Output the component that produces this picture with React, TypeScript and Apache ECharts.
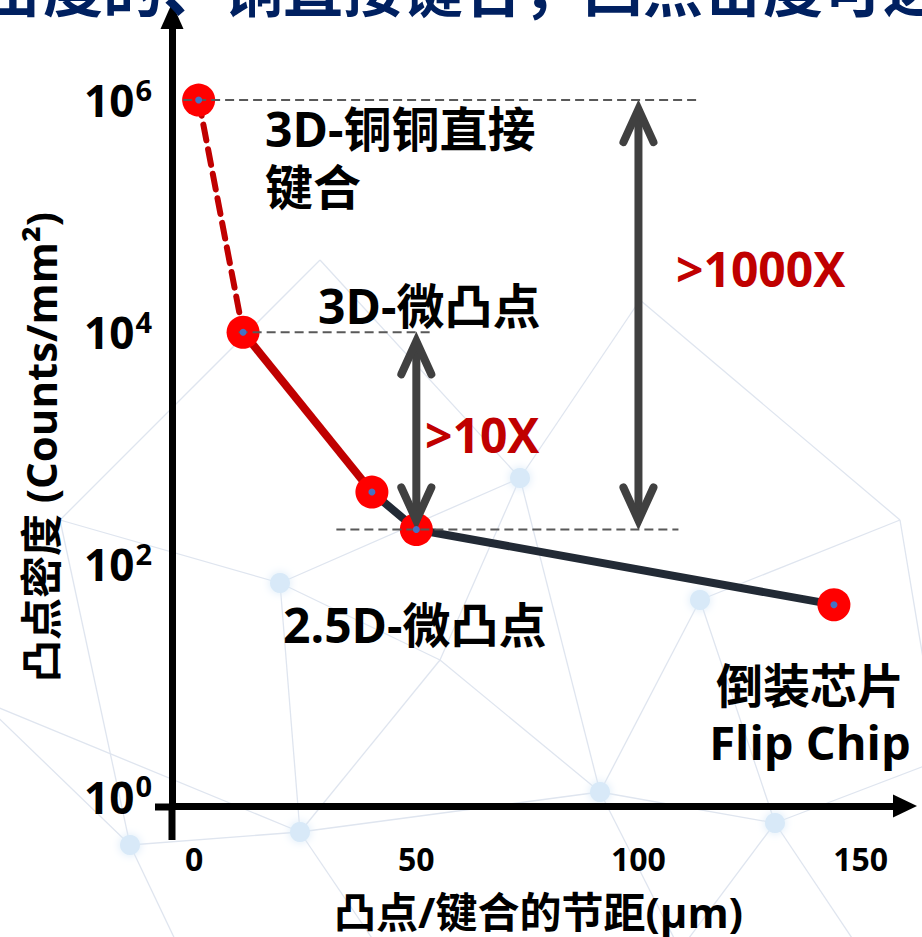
import { useEffect, useRef } from 'react';
import * as echarts from 'echarts';

const FONT = "'Open Sans', 'Noto Sans CJK SC', sans-serif";

// Bump / bond pitch (µm) and areal bump density (counts/mm²) for each interconnect generation
const pitch = [1, 11, 40, 50, 144];
const density = [1e6, 1e4, 420, 200, 45];

// Index ranges of the curve: hybrid bonding (dashed), 3D micro-bump (red), 2.5D / flip chip (dark)
const hybridSegment = [0, 1];
const microSegment = [1, 2];
const packageSegment = [2, 3, 4];

const xTicks = [0, 50, 100, 150];
const yLabelExponents = [0, 2, 4, 6];

// Horizontal dashed guides: pitch start, pitch end, density level
const guideFrom = [-2.5, 10, 32];
const guideTo = [113, 53, 109];
const guideLevel = [1e6, 1e4, 200];

// Double-headed span arrows: pitch, upper density, lower density
const arrowPitch = [100, 50];
const arrowTop = [1e6, 1e4];
const arrowBottom = [200, 200];

// Faint network backdrop
const netNodes: [number, number][] = [
  [-20, 700], [130, 845], [300, 832], [600, 792], [775, 823], [940, 760],
  [520, 478], [280, 583], [440, 660], [700, 600], [900, 520], [60, 520],
  [380, 950], [680, 950], [180, 950], [860, 950], [640, 300], [320, 260],
];
const netEdges: [number, number][] = [
  [0, 1], [0, 2], [1, 2], [2, 3], [3, 4], [4, 5], [7, 2], [7, 6], [6, 3],
  [3, 9], [9, 4], [9, 10], [10, 5], [11, 7], [11, 1], [8, 2], [8, 3], [8, 6],
  [2, 12], [3, 13], [4, 13], [4, 15], [1, 14], [7, 8], [6, 16], [6, 17], [16, 10], [17, 11],
];
const netDots = [1, 2, 3, 4, 6, 7, 9];

const pts = (idx: number[]) => idx.map((i) => [pitch[i], density[i]]);

const boldText = (size: number, color = '#000') => ({
  fontSize: size,
  fontWeight: 'bold' as const,
  fontFamily: FONT,
  color,
});

export default function App() {
  const ref = useRef<HTMLDivElement>(null);

  useEffect(() => {
    document.body.style.margin = '0';
    if (!ref.current) return;
    const chart = echarts.init(ref.current, undefined, { renderer: 'svg' });

    const annotation = (text: string, x: number, y: number, size: number, color = '#000', align = 'left', vAlign = 'middle') => ({
      type: 'text',
      z: 20,
      style: {
        text, x, y,
        fill: color,
        fontSize: size,
        fontWeight: 'bold',
        fontFamily: FONT,
        align, verticalAlign: vAlign,
        textAlign: align, textVerticalAlign: vAlign,
      },
    });

    const network: any[] = [
      ...netEdges.map(([a, b]) => ({
        type: 'line', z: -5, silent: true,
        shape: { x1: netNodes[a][0], y1: netNodes[a][1], x2: netNodes[b][0], y2: netNodes[b][1] },
        style: { stroke: '#dfe5ef', lineWidth: 1.3 },
      })),
      ...netDots.map((i) => ({
        type: 'circle', z: -4, silent: true,
        shape: { cx: netNodes[i][0], cy: netNodes[i][1], r: 10 },
        style: { fill: '#d8e9f8', shadowBlur: 10, shadowColor: '#d8e9f8' },
      })),
    ];

    chart.setOption({
      animation: false,
      backgroundColor: '#ffffff',
      grid: { left: 172, right: 17, top: 16, bottom: 130 },
      xAxis: {
        type: 'value',
        min: -5,
        max: 160,
        axisLine: {
          show: true,
          onZero: false,
          lineStyle: { color: '#000', width: 7 },
          symbol: ['none', 'triangle'],
          symbolSize: [23, 24],
        },
        axisTick: { show: false },
        splitLine: { show: false },
        axisLabel: { customValues: xTicks, margin: 36, ...boldText(32) },
        name: '凸点/键合的节距(μm)',
        nameLocation: 'middle',
        nameGap: 84,
        nameTextStyle: boldText(42),
      },
      yAxis: {
        type: 'log',
        logBase: 10,
        min: 0.83,
        max: 5.3e6,
        axisLine: {
          show: true,
          onZero: false,
          lineStyle: { color: '#000', width: 7 },
          symbol: ['none', 'triangle'],
          symbolSize: [23, 26],
        },
        axisTick: { show: false },
        splitLine: { show: false },
        axisLabel: {
          margin: 20,
          formatter: (v: number) => {
            const lg = Math.log10(v);
            const e = Math.round(lg);
            if (Math.abs(lg - e) > 1e-6 || !yLabelExponents.includes(e)) return '';
            return `{b|10}{s|${e}}`;
          },
          rich: {
            b: boldText(44),
            s: { ...boldText(29), padding: [0, 0, 22, 1] },
          },
        },
        name: '凸点密度 (Counts/mm²)',
        nameLocation: 'middle',
        nameRotate: 90,
        nameGap: 111,
        nameTextStyle: { ...boldText(42), padding: [0, 72, 0, 0] },
      },
      graphic: [
        ...network,
        // axis stubs crossing past the origin
        { type: 'line', z: 10, shape: { x1: 155, y1: 807, x2: 175, y2: 807 }, style: { stroke: '#000', lineWidth: 7 } },
        { type: 'line', z: 10, shape: { x1: 172, y1: 805, x2: 172, y2: 840 }, style: { stroke: '#000', lineWidth: 7 } },
        annotation('密度的、铜直接键合，凸点密度可达', -17, 19, 60, '#002060', 'left', 'bottom'),
        annotation('3D-铜铜直接', 265, 128, 48),
        annotation('键合', 265, 186, 48),
        annotation('3D-微凸点', 318, 305, 48),
        annotation('>10X', 425, 434, 48, '#C00000'),
        annotation('>1000X', 676, 268, 48, '#C00000'),
        annotation('2.5D-微凸点', 283, 624, 48),
        annotation('倒装芯片', 810, 685, 47, '#000', 'center'),
        annotation('Flip Chip', 810, 742, 47, '#000', 'center'),
      ],
      series: [
        {
          type: 'line',
          data: pts(hybridSegment),
          symbol: 'none',
          lineStyle: { color: '#C00000', width: 6, type: [16, 9], cap: 'round' },
          z: 2,
        },
        {
          type: 'line',
          data: pts(microSegment),
          symbol: 'none',
          lineStyle: { color: '#C00000', width: 8 },
          z: 2,
        },
        {
          type: 'line',
          data: pts(packageSegment),
          symbol: 'none',
          lineStyle: { color: '#222A35', width: 8 },
          z: 2,
        },
        {
          type: 'scatter',
          data: pts([0, 1, 2, 3, 4]),
          symbol: 'circle',
          symbolSize: 33,
          itemStyle: { color: '#FF0000', opacity: 1 },
          z: 3,
        },
        ...guideLevel.map((lvl, i) => ({
          type: 'line',
          data: [[guideFrom[i], lvl], [guideTo[i], lvl]],
          symbol: 'none',
          lineStyle: { color: '#595959', width: 2, type: [9, 5] },
          z: 4,
        })),
        {
          type: 'scatter',
          data: pts([0, 1, 2, 3, 4]),
          symbol: 'circle',
          symbolSize: 7,
          itemStyle: { color: '#4472C4', opacity: 1 },
          z: 5,
        },
        {
          type: 'custom',
          z: 4,
          data: arrowPitch.map((p, i) => [p, arrowTop[i], arrowBottom[i]]),
          renderItem: (_params: any, api: any) => {
            const top = api.coord([api.value(0), api.value(1)]);
            const bot = api.coord([api.value(0), api.value(2)]);
            const x = top[0];
            const inset = 9;
            const hw = 15;
            const hh = 33;
            const style = { stroke: '#404040', lineWidth: 8, fill: 'none', lineCap: 'round', lineJoin: 'miter' };
            return {
              type: 'group',
              children: [
                { type: 'line', shape: { x1: x, y1: top[1] + inset, x2: x, y2: bot[1] - inset }, style: { ...style, lineCap: 'butt' } },
                { type: 'polyline', shape: { points: [[x - hw, top[1] + inset + hh], [x, top[1] + inset], [x + hw, top[1] + inset + hh]] }, style },
                { type: 'polyline', shape: { points: [[x - hw, bot[1] - inset - hh], [x, bot[1] - inset], [x + hw, bot[1] - inset - hh]] }, style },
              ],
            };
          },
        },
      ],
    });

    return () => chart.dispose();
  }, []);

  return <div ref={ref} style={{ width: 922, height: 937 }} />;
}
